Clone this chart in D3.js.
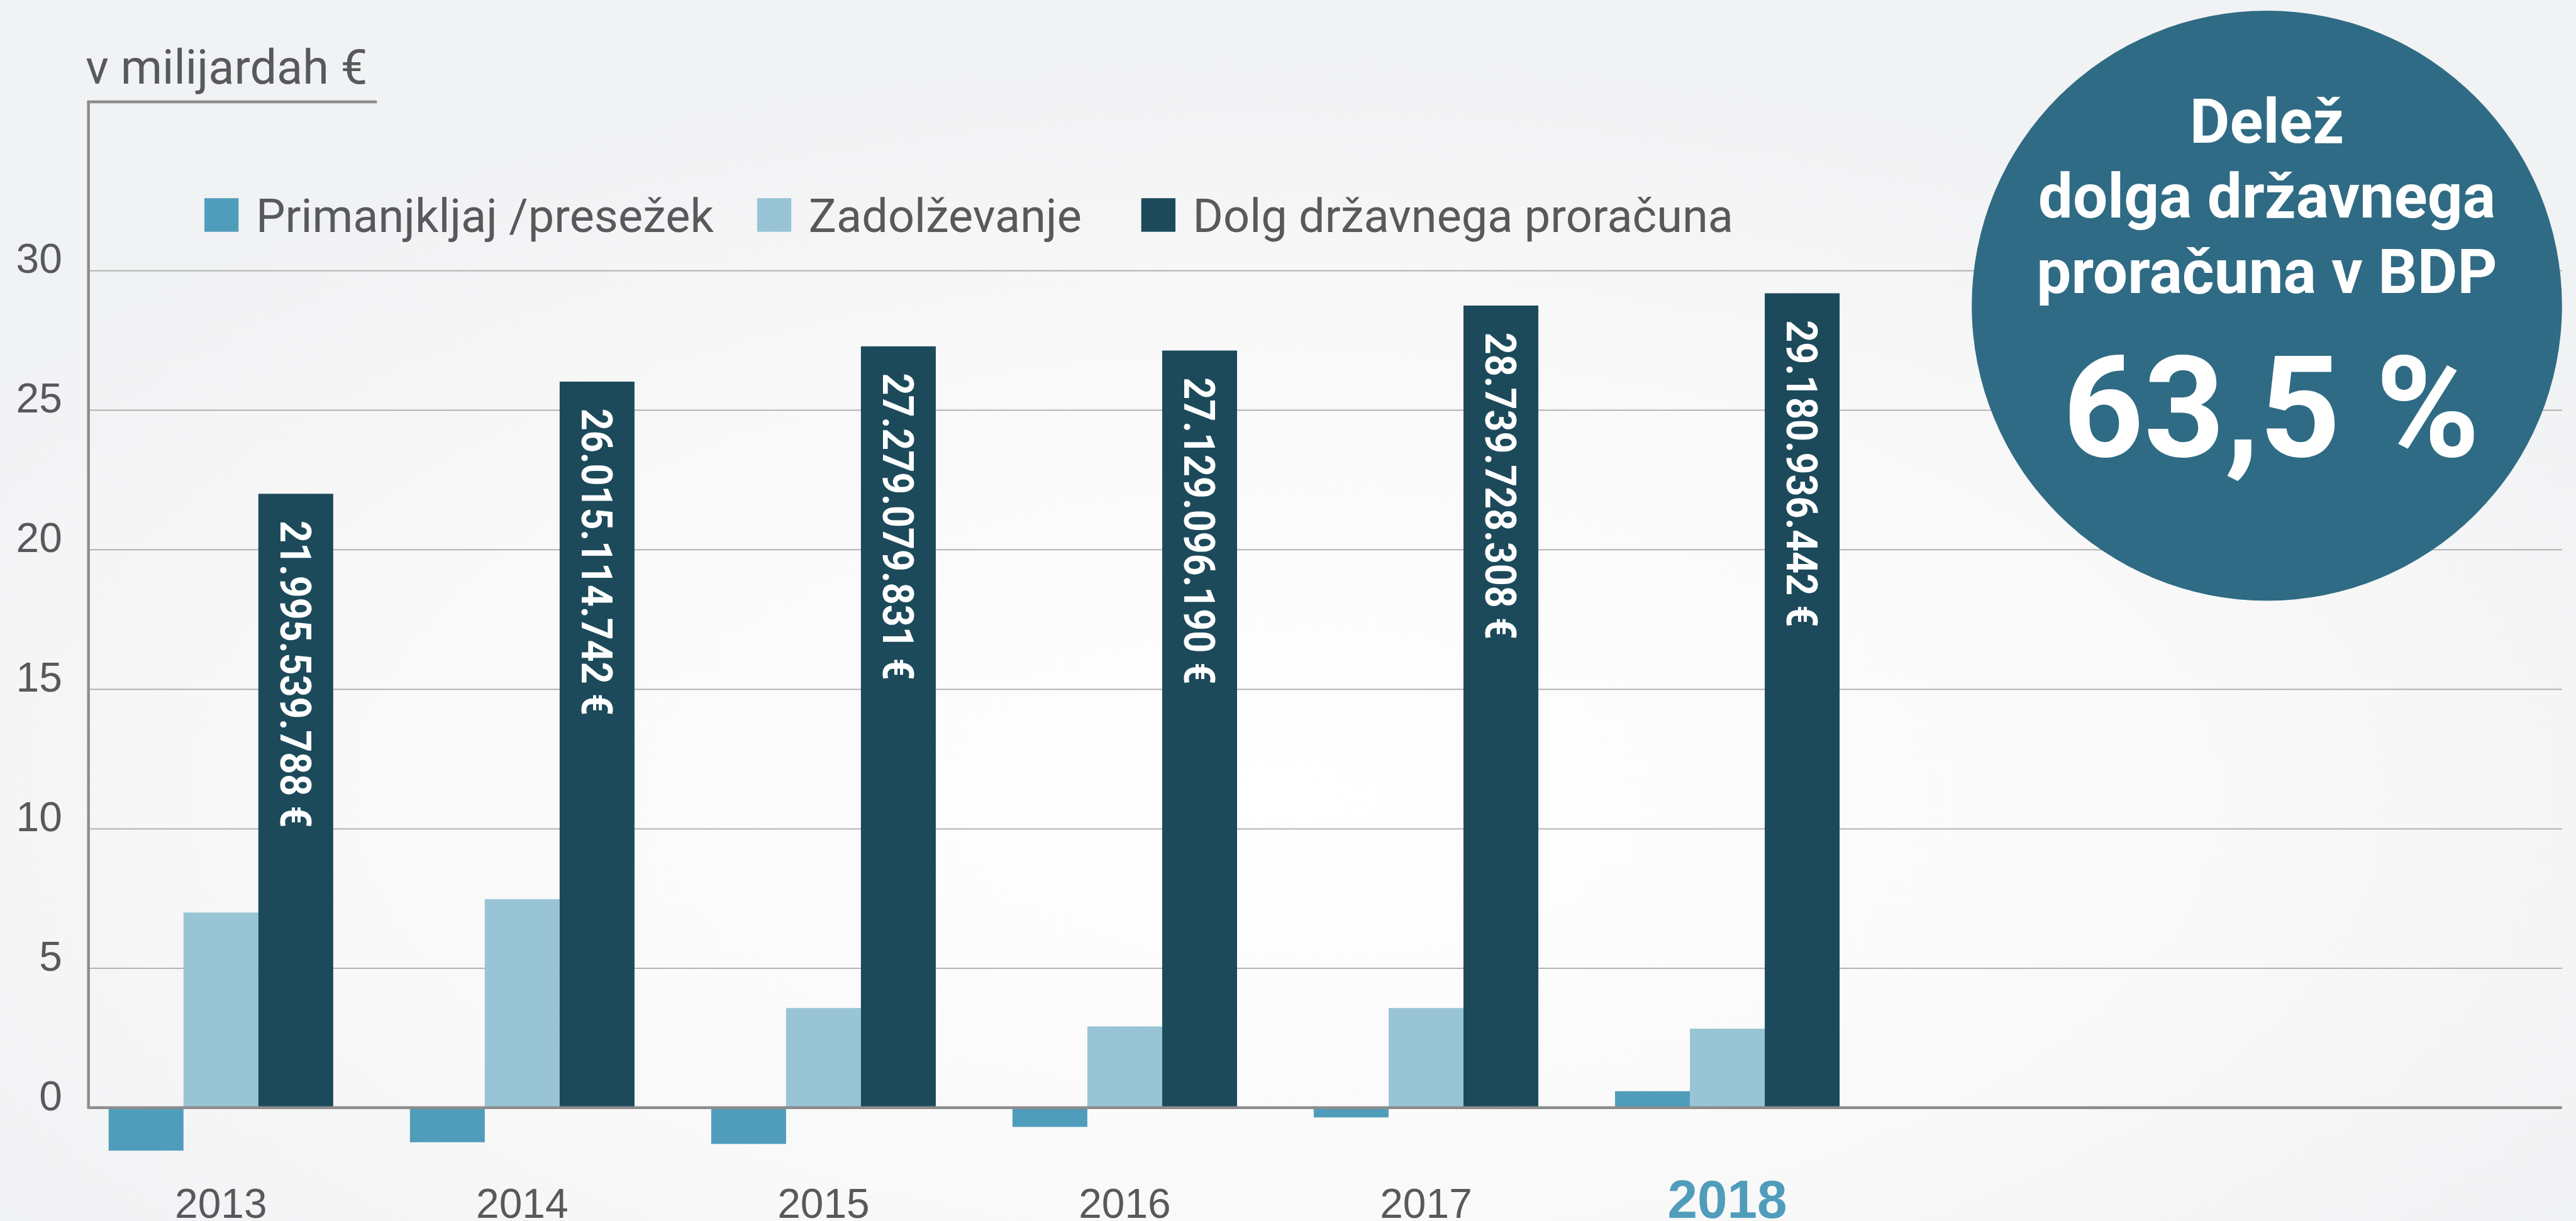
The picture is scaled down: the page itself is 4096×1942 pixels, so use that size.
<!DOCTYPE html>
<html>
<head>
<meta charset="utf-8">
<script src="https://cdn.jsdelivr.net/npm/d3@7"></script>
<style>
  html, body { margin: 0; padding: 0; background: #f3f4f6; }
  svg { display: block; font-family: Roboto, "Noto Sans", sans-serif; }
</style>
</head>
<body>
<svg id="chart"></svg>
<script>
const width = 4096;
const height = 1942;
const k = width / 4600; // reference drawn at 4600 wide

// data (billions of EUR)
const years = ["2013", "2014", "2015", "2016", "2017", "2018"];
const seriesNames = ["Primanjkljaj /presežek", "Zadolževanje", "Dolg državnega proračuna"];
const primanjkljaj = [-1.54, -1.24, -1.3, -0.69, -0.35, 0.59];
const zadolzevanje = [6.99, 7.47, 3.57, 2.91, 3.57, 2.83];
const dolg = [21.995539788, 26.015114742, 27.279079831, 27.12909619, 28.739728308, 29.180936442];
const dolgLabels = ["21.995.539.788 €", "26.015.114.742 €", "27.279.079.831 €", "27.129.096.190 €", "28.739.728.308 €", "29.180.936.442 €"];
const yTicks = [0, 5, 10, 15, 20, 25, 30];
const highlightYear = "2018";
const shareTitle = ["Delež", "dolga državnega", "proračuna v BDP"];
const shareValue = "63,5 %";

const colors = ["#509dbb", "#98c4d5", "#1c4a5b"];
const textColor = "#58595b";

const svg = d3.select("#chart").attr("width", width).attr("height", height);

// background
const defs = svg.append("defs");
const grad = defs.append("radialGradient").attr("id", "bg")
  .attr("cx", "50%").attr("cy", "65%").attr("r", "60%");
grad.append("stop").attr("offset", "0%").attr("stop-color", "#ffffff");
grad.append("stop").attr("offset", "60%").attr("stop-color", "#f9f9f9");
grad.append("stop").attr("offset", "100%").attr("stop-color", "#f1f2f4");
svg.append("rect").attr("width", width).attr("height", height).attr("fill", "url(#bg)");

const g = svg.append("g").attr("transform", `scale(${k})`);

const axisX = 158;
const axisRight = 4575;
const axisTop = 182;

const y = d3.scaleLinear().domain([0, 30]).range([1978.5, 483]);

const x0 = d3.scaleBand()
  .domain(years)
  .range([194, 194 + 538 * years.length])
  .paddingInner(0.2546)
  .paddingOuter(0.1273)
  .align(0);

const x1 = d3.scaleBand().domain(seriesNames).range([0, x0.bandwidth()]);

// gridlines + y labels
const yAxis = d3.axisLeft(y).tickValues(yTicks).tickSize(-(axisRight - axisX)).tickPadding(47);
const yg = g.append("g").attr("transform", `translate(${axisX},0)`).call(yAxis);
yg.select(".domain").remove();
yg.selectAll(".tick line")
  .attr("stroke", "#a9a9a9")
  .attr("stroke-width", 2)
  .attr("display", (d) => (d === 0 ? "none" : null));
yg.selectAll(".tick text")
  .attr("fill", textColor)
  .attr("font-size", 74)
  .attr("dy", "0.06em");

// bars
const series = [primanjkljaj, zadolzevanje, dolg];
const groups = g.selectAll(".year")
  .data(years)
  .join("g")
  .attr("class", "year")
  .attr("transform", (d) => `translate(${x0(d)},0)`);

groups.selectAll("rect")
  .data((d, i) => seriesNames.map((s, j) => ({ s, j, v: series[j][i] })))
  .join("rect")
  .attr("x", (d) => x1(d.s))
  .attr("width", x1.bandwidth())
  .attr("y", (d) => (d.v >= 0 ? y(d.v) : y(0)))
  .attr("height", (d) => Math.abs(y(d.v) - y(0)))
  .attr("fill", (d) => colors[d.j]);

// debt labels inside the dark bars
groups.append("text")
  .attr("transform", (d, i) =>
    `translate(${x1(seriesNames[2]) + x1.bandwidth() / 2},${y(dolg[i]) + 48}) rotate(90)`)
  .attr("dy", "0.36em")
  .attr("fill", "#ffffff")
  .attr("font-size", 77)
  .attr("font-weight", 700)
  .text((d, i) => dolgLabels[i])
  .each(function () {
    const len = this.getComputedTextLength();
    d3.select(this).attr("textLength", len * 0.89).attr("lengthAdjust", "spacingAndGlyphs");
  });

// axis lines
g.append("line")
  .attr("x1", axisX).attr("x2", axisRight)
  .attr("y1", y(0)).attr("y2", y(0))
  .attr("stroke", "#8c8c8c").attr("stroke-width", 5);
g.append("line")
  .attr("x1", axisX).attr("x2", axisX)
  .attr("y1", axisTop).attr("y2", y(0) + 2)
  .attr("stroke", "#8c8c8c").attr("stroke-width", 5);
g.append("line")
  .attr("x1", axisX - 2.5).attr("x2", 673)
  .attr("y1", axisTop).attr("y2", axisTop)
  .attr("stroke", "#8c8c8c").attr("stroke-width", 5);

g.append("text")
  .attr("x", 153).attr("y", 149)
  .attr("fill", textColor)
  .attr("font-size", 85)
  .text("v milijardah €");

// x labels
const xAxis = d3.axisBottom(x0).tickSize(0).tickPadding(197);
const xg = g.append("g").attr("transform", `translate(0,${y(0)})`).call(xAxis);
xg.select(".domain").remove();
xg.selectAll(".tick text")
  .attr("dy", 0)
  .attr("fill", (d) => (d === highlightYear ? colors[0] : textColor))
  .attr("font-size", (d) => (d === highlightYear ? 96 : 74))
  .attr("font-weight", (d) => (d === highlightYear ? 700 : 400));

// legend
const legendX = [365, 1352, 2038];
const legend = g.selectAll(".legend")
  .data(seriesNames)
  .join("g")
  .attr("class", "legend")
  .attr("transform", (d, i) => `translate(${legendX[i]},354)`);
legend.append("rect").attr("width", 61).attr("height", 60).attr("fill", (d, i) => colors[i]);
legend.append("text")
  .attr("x", 92).attr("y", 60)
  .attr("fill", textColor)
  .attr("font-size", 83)
  .text((d) => d);

// share of GDP bubble
const cx = 4048, cy = 546, r = 527;
g.append("circle").attr("cx", cx).attr("cy", cy).attr("r", r).attr("fill", "#2f6b84");
g.selectAll(".share")
  .data(shareTitle)
  .join("text")
  .attr("class", "share")
  .attr("x", cx)
  .attr("y", (d, i) => 255 + i * 134)
  .attr("text-anchor", "middle")
  .attr("fill", "#ffffff")
  .attr("font-size", 110)
  .attr("font-weight", 700)
  .text((d) => d);
g.append("text")
  .attr("x", cx + 8).attr("y", 815)
  .attr("text-anchor", "middle")
  .attr("fill", "#ffffff")
  .attr("font-size", 252)
  .attr("font-weight", 700)
  .text(shareValue);
</script>
</body>
</html>
